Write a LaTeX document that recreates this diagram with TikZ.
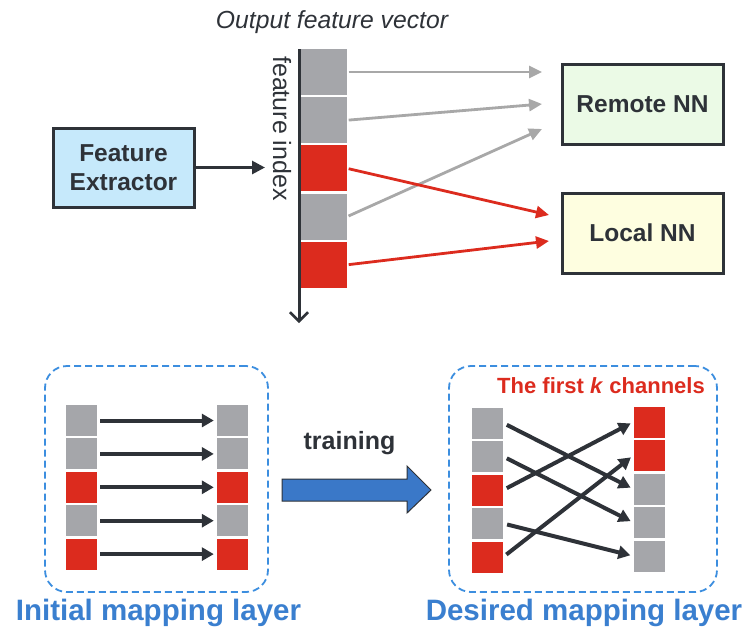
\documentclass[tikz,border=0pt]{standalone}
\usepackage{fontspec}
\setmainfont{Liberation Sans}
\usetikzlibrary{arrows.meta}

\definecolor{cgray}{HTML}{A5A6AA}
\definecolor{cred}{HTML}{DC2B1E}
\definecolor{inkdark}{HTML}{2E3238}
\definecolor{lgray}{HTML}{A8A8A8}
\definecolor{labelblue}{HTML}{3A7FCF}
\definecolor{dashblue}{HTML}{3C8EDF}
\definecolor{feblue}{HTML}{C6E9FB}
\definecolor{nngreen}{HTML}{EBFAE6}
\definecolor{nnyellow}{HTML}{FEFEE0}
\definecolor{arrblue}{HTML}{3A78C8}

\tikzset{
  bigcell/.style={rectangle, inner sep=0, minimum width=47, minimum height=46},
  smallcell/.style={rectangle, inner sep=0, minimum width=31, minimum height=31},
  blockbox/.style={rectangle, draw=inkdark, line width=3, inner sep=0,
    font=\fontsize{24.5}{28}\selectfont\bfseries, text=inkdark, align=center},
  grayarrow/.style={draw=lgray, line width=2.8, -{Triangle[length=13,width=12]}},
  redarrow/.style={draw=cred, line width=2.8, -{Triangle[length=13,width=12]}},
  maparrow/.style={draw=inkdark, line width=4, -{Triangle[length=12,width=13]}},
  dashbox/.style={rectangle, draw=dashblue, line width=1.8, dash pattern=on 7 off 4,
    rounded corners=22, inner sep=0},
  layerlabel/.style={font=\fontsize{29.5}{33}\selectfont\bfseries, text=labelblue},
}

\begin{document}
\begin{tikzpicture}[x=1pt, y=-1pt]
\useasboundingbox (0,0) rectangle (743,633);

% ---------- feature vector ----------
\node[font=\fontsize{24.7}{28}\selectfont\itshape, text=inkdark] (title) at (332,22) {Output feature vector};

\node[bigcell, fill=cgray] (v1) at (323.5,72.0) {};
\node[bigcell, fill=cgray] (v2) at (323.5,120.2) {};
\node[bigcell, fill=cred]  (v3) at (323.5,168.4) {};
\node[bigcell, fill=cgray] (v4) at (323.5,216.6) {};
\node[bigcell, fill=cred]  (v5) at (323.5,264.8) {};

\coordinate (axtop) at (299,49);
\coordinate (axend) at (299,323);
\draw[inkdark, line width=3, -{Straight Barb[length=9,width=18,line width=2.5]}] (axtop) -- (axend);
\node[rotate=-90, font=\fontsize{25}{28}\selectfont, text=inkdark] (fidx) at (282,128.5) {feature index};

% ---------- blocks ----------
\node[blockbox, fill=feblue, minimum width=141, minimum height=79] (fe) at (123.5,167.5) {Feature\\[1pt]Extractor};
\node[blockbox, fill=nngreen, minimum width=161, minimum height=80] (remote) at (642.5,104) {Remote NN};
\node[blockbox, fill=nnyellow, minimum width=161, minimum height=80] (local) at (642.5,233) {Local NN};

\coordinate (feend) at (265,167.5);
\draw[inkdark, line width=2.8, -{Triangle[length=13,width=13]}] (fe.east) -- (feend);

\coordinate (r1) at (542,72);
\coordinate (r2) at (542,104);
\coordinate (r3) at (542,129);
\coordinate (l1) at (549,215);
\coordinate (l2) at (549,241);
\draw[grayarrow, shorten <=1.5] (v1.east) -- (r1);
\draw[grayarrow, shorten <=1.5] (v2.east) -- (r2);
\draw[grayarrow, shorten <=1.5] (v4.east) -- (r3);
\draw[redarrow, shorten <=1.5] (v3.east) -- (l1);
\draw[redarrow, shorten <=1.5] (v5.east) -- (l2);

% ---------- initial mapping layer ----------
\node[dashbox, minimum width=223, minimum height=226] (lbox) at (156.5,479) {};
\foreach \i/\c [evaluate=\i as \yy using 420.5+33.4*(\i-1)] in {1/cgray,2/cgray,3/cred,4/cgray,5/cred} {
  \node[smallcell, fill=\c] (a\i) at (81.5,\yy) {};
  \node[smallcell, fill=\c] (b\i) at (232.5,\yy) {};
}
\foreach \i in {1,...,5} {
  \draw[maparrow, shorten <=3, shorten >=3] (a\i.east) -- (b\i.west);
}
\node[layerlabel] (initlabel) at (158.5,613) {Initial mapping layer};

% ---------- training arrow ----------
\node[font=\fontsize{25}{28}\selectfont\bfseries, text=inkdark] (train) at (349.5,443) {training};
\draw[fill=arrblue, draw=inkdark, line width=1]
  (282,479) -- (407,479) -- (407,466) -- (431,490) -- (407,513) -- (407,501) -- (282,501) -- cycle;

% ---------- desired mapping layer ----------
\node[dashbox, minimum width=268, minimum height=226] (rbox) at (583,479) {};
\node[font=\fontsize{22}{26}\selectfont\bfseries, text=cred] (kch) at (601,386) {The first \textit{k} channels};
\foreach \i/\c [evaluate=\i as \yy using 423+33.5*(\i-1)] in {1/cgray,2/cgray,3/cred,4/cgray,5/cred} {
  \node[smallcell, fill=\c] (p\i) at (487.5,\yy) {};
}
\foreach \i/\c [evaluate=\i as \yy using 422+33.5*(\i-1)] in {1/cred,2/cred,3/cgray,4/cgray,5/cgray} {
  \node[smallcell, fill=\c] (q\i) at (649,\yy) {};
}
\foreach \s/\t in {1/3,2/4,3/1,4/5,5/2} {
  \draw[maparrow, shorten <=4, shorten >=3] (p\s.east) -- (q\t.west);
}
\node[layerlabel] (desiredlabel) at (584,613) {Desired mapping layer};

\end{tikzpicture}
\end{document}
